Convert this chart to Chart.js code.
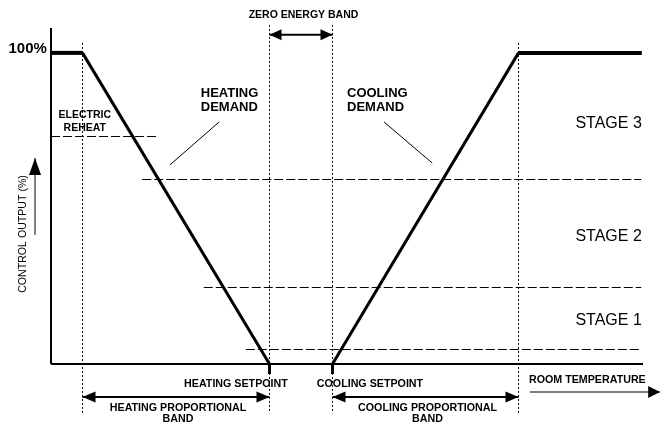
<!DOCTYPE html>
<html>
<head>
<meta charset="utf-8">
<script src="https://cdn.jsdelivr.net/npm/chart.js@4"></script>
<style>
  html, body { margin: 0; padding: 0; background: #fff; }
  #wrap { width: 660px; height: 425px; position: relative; }
</style>
</head>
<body>
<div id="wrap"><canvas id="chart"></canvas></div>
<script>
// Room temperature runs 0..100 (arbitrary units), control output in %
const tempRange = [0, 100];
const outputRange = [0, 108];

// Demand curves
const heatingX = [0, 5.32, 36.91];
const heatingY = [100, 100, 0];
const coolingX = [47.55, 78.97, 99.8];
const coolingY = [0, 100, 100];

// Stage thresholds (dashed) and where each starts
const stageLevels = [59.3, 24.59, 4.66];
const stageStartX = [15.4, 25.8, 32.9];
const stageEndX = 99.7;
const stageNames = ['STAGE 3', 'STAGE 2', 'STAGE 1'];
const stageLabelY = [77.2, 40.8, 13.8];

// Electric reheat level
const reheatLevel = 73.13;
const reheatEndX = 18.1;

// Dotted guide verticals (band edges / setpoints)
const guideX = [5.32, 36.91, 47.55, 78.97];
const guideTop = [103.2, 109, 109, 103.2];
const guideBottom = -15.8;

// Setpoints
const setpointX = [36.91, 47.55];

// Arrows
const arrows = [
  { from: [36.91, 105.8], to: [47.55, 105.8], both: true, w: 2, color: '#000', len: 12, half: 5.5 },
  { from: [5.32, -10.6], to: [36.91, -10.6], both: true, w: 2, color: '#000', len: 13, half: 5.5 },
  { from: [47.55, -10.6], to: [78.97, -10.6], both: true, w: 2, color: '#000', len: 13, half: 5.5 },
  { from: [80.9, -9.0], to: [102.9, -9.0], both: false, w: 2, color: '#808080', len: 12, half: 6 },
  { from: [-2.7, 41.5], to: [-2.7, 66.2], both: false, w: 1, color: '#000', len: 17, half: 6 }
];

// Leader lines from demand labels
const leaders = [
  [[28.4, 77.8], [20.1, 64.0]],
  [[56.25, 77.8], [64.4, 64.6]]
];

// Text annotations (data coordinates)
const texts = [
  { t: '100%', x: -0.7, y: 101.4, size: 15, bold: true, align: 'right' },
  { t: 'ZERO ENERGY BAND', x: 42.65, y: 112.2, size: 10.5, bold: true, align: 'center' },
  { t: 'ELECTRIC', x: 5.7, y: 80.1, size: 10.5, bold: true, align: 'center' },
  { t: 'REHEAT', x: 5.7, y: 75.9, size: 10.5, bold: true, align: 'center' },
  { t: 'HEATING', x: 25.3, y: 87.1, size: 13, bold: true, align: 'left' },
  { t: 'DEMAND', x: 25.3, y: 82.6, size: 13, bold: true, align: 'left' },
  { t: 'COOLING', x: 50.0, y: 87.1, size: 13, bold: true, align: 'left' },
  { t: 'DEMAND', x: 50.0, y: 82.6, size: 13, bold: true, align: 'left' },
  { t: 'HEATING SETPOINT', x: 40.0, y: -6.4, size: 10.7, bold: true, align: 'right' },
  { t: 'COOLING SETPOINT', x: 44.9, y: -6.4, size: 10.7, bold: true, align: 'left' },
  { t: 'HEATING PROPORTIONAL', x: 21.45, y: -14.1, size: 10.7, bold: true, align: 'center' },
  { t: 'BAND', x: 21.45, y: -17.7, size: 10.7, bold: true, align: 'center' },
  { t: 'COOLING PROPORTIONAL', x: 63.6, y: -14.1, size: 10.7, bold: true, align: 'center' },
  { t: 'BAND', x: 63.6, y: -17.7, size: 10.7, bold: true, align: 'center' },
  { t: 'ROOM TEMPERATURE', x: 90.6, y: -5.1, size: 10.7, bold: true, align: 'center' },
  { t: 'CONTROL OUTPUT (%)', x: -4.7, y: 41.8, size: 10.6, bold: false, align: 'center', rotate: true }
];

function line(points, style) {
  return Object.assign({
    data: points.map(p => ({ x: p[0], y: p[1] })),
    borderColor: '#000',
    borderWidth: 1,
    pointRadius: 0,
    fill: false,
    tension: 0,
    clip: false
  }, style);
}

const datasets = [];

// axes
datasets.push(line([[0, 0], [tempRange[1], 0]], { borderWidth: 2 }));
datasets.push(line([[0, 0], [0, outputRange[1]]], { borderWidth: 2 }));

// dotted guides
guideX.forEach((gx, i) => {
  datasets.push(line([[gx, guideTop[i]], [gx, guideBottom]], { borderDash: [2, 2] }));
});

// stage dashed lines
stageLevels.forEach((lv, i) => {
  datasets.push(line([[stageStartX[i], lv], [stageEndX, lv]], { borderDash: [9, 3] }));
});
datasets.push(line([[0, reheatLevel], [reheatEndX, reheatLevel]], { borderDash: [9, 3] }));

// leaders
leaders.forEach(l => datasets.push(line(l, {})));

// setpoint ticks
setpointX.forEach(sx => datasets.push(line([[sx, 0], [sx, -3.2]], { borderWidth: 3, borderCapStyle: 'butt' })));

// arrow shafts
arrows.forEach(a => datasets.push(line([a.from, a.to], { borderWidth: a.w, borderColor: a.color })));

// demand curves, flat part a bit heavier
const flatOrSlope = ctx => ctx.p0.parsed.y === ctx.p1.parsed.y ? 4 : 3;
datasets.push(line(heatingX.map((x, i) => [x, heatingY[i]]), { borderWidth: 3, segment: { borderWidth: flatOrSlope } }));
datasets.push(line(coolingX.map((x, i) => [x, coolingY[i]]), { borderWidth: 3, segment: { borderWidth: flatOrSlope } }));

const annotations = {
  id: 'annotations',
  afterDatasetsDraw(chart) {
    const { ctx, scales: { x, y } } = chart;
    ctx.save();
    ctx.fillStyle = '#000';

    // arrow heads
    const head = (tx, ty, fx, fy, len, half) => {
      const ang = Math.atan2(ty - fy, tx - fx);
      ctx.save();
      ctx.translate(tx, ty);
      ctx.rotate(ang);
      ctx.beginPath();
      ctx.moveTo(0, 0);
      ctx.lineTo(-len, -half);
      ctx.lineTo(-len, half);
      ctx.closePath();
      ctx.fill();
      ctx.restore();
    };
    arrows.forEach(a => {
      const x0 = x.getPixelForValue(a.from[0]), y0 = y.getPixelForValue(a.from[1]);
      const x1 = x.getPixelForValue(a.to[0]), y1 = y.getPixelForValue(a.to[1]);
      head(x1, y1, x0, y0, a.len, a.half);
      if (a.both) head(x0, y0, x1, y1, a.len, a.half);
    });

    // stage labels
    ctx.textBaseline = 'middle';
    ctx.font = '16px "Liberation Sans", Arial, sans-serif';
    ctx.textAlign = 'right';
    stageNames.forEach((s, i) => {
      ctx.fillText(s, x.getPixelForValue(99.8), y.getPixelForValue(stageLabelY[i]));
    });

    texts.forEach(tx => {
      ctx.font = (tx.bold ? 'bold ' : '') + tx.size + 'px "Liberation Sans", Arial, sans-serif';
      ctx.textAlign = tx.align;
      const px = x.getPixelForValue(tx.x), py = y.getPixelForValue(tx.y);
      if (tx.rotate) {
        ctx.save();
        ctx.translate(px, py);
        ctx.rotate(-Math.PI / 2);
        ctx.fillText(tx.t, 0, 0);
        ctx.restore();
      } else {
        ctx.fillText(tx.t, px, py);
      }
    });
    ctx.restore();
  }
};

new Chart(document.getElementById('chart'), {
  type: 'line',
  data: { datasets },
  options: {
    responsive: true,
    maintainAspectRatio: false,
    animation: false,
    layout: { padding: { left: 51, right: 17, top: 28, bottom: 61 } },
    scales: {
      x: { type: 'linear', min: tempRange[0], max: tempRange[1], display: false },
      y: { type: 'linear', min: outputRange[0], max: outputRange[1], display: false }
    },
    plugins: { legend: { display: false }, tooltip: { enabled: false } }
  },
  plugins: [annotations]
});
</script>
</body>
</html>
